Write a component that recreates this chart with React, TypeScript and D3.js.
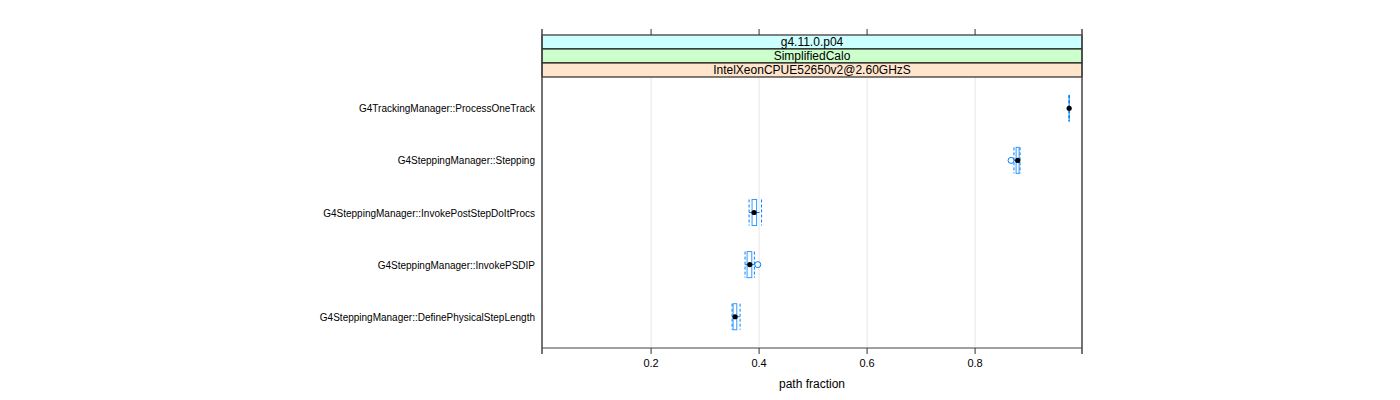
import React from "react";
import * as d3 from "d3";

const categories = [
  "G4TrackingManager::ProcessOneTrack",
  "G4SteppingManager::Stepping",
  "G4SteppingManager::InvokePostStepDoItProcs",
  "G4SteppingManager::InvokePSDIP",
  "G4SteppingManager::DefinePhysicalStepLength",
];
const lowerWhisker = [0.9737, 0.872, 0.3815, 0.374, 0.35];
const q1 = [0.9741, 0.876, 0.387, 0.3778, 0.3519];
const median = [0.9742, 0.879, 0.3907, 0.3828, 0.3556];
const q3 = [0.9743, 0.8815, 0.3954, 0.3865, 0.3587];
const upperWhisker = [0.9747, 0.8833, 0.4046, 0.3913, 0.3648];
const outliers: number[][] = [[], [0.8667], [], [0.3976], []];

const xTicks = [0.2, 0.4, 0.6, 0.8];
const stripLabels = ["g4.11.0.p04", "SimplifiedCalo", "IntelXeonCPUE52650v2@2.60GHzS"];
const stripColors = ["#ccffff", "#ccffcc", "#ffe5cc"];
const xLabel = "path fraction";

const BLUE = "#0080ff";
const FONT = "'Liberation Sans', Arial, Helvetica, sans-serif";

export default function App() {
  const left = 542, right = 1082;
  const frameTop = 35, stripH = 14;
  const panelTop = frameTop + stripH * stripLabels.length; // 77
  const panelBottom = 348;

  const x = d3.scaleLinear().domain([-0.002, 0.998]).range([left, right]);
  const n = categories.length;
  const y = d3.scaleLinear().domain([0.4, n + 0.6]).range([panelBottom, panelTop]);
  const boxHalf = Math.abs(y(0.25) - y(0));

  return (
    <svg width={1400} height={400} style={{ position: "absolute", left: 0, top: 0 }} fontFamily={FONT}>
      <rect x={0} y={0} width={1400} height={400} fill="#fff" />
      {xTicks.map((t) => (
        <line key={"g" + t} x1={x(t)} x2={x(t)} y1={panelTop} y2={panelBottom} stroke="#e6e6e6" strokeWidth={1} />
      ))}
      {stripLabels.map((s, i) => (
        <g key={s}>
          <rect x={left} y={frameTop + i * stripH} width={right - left} height={stripH} fill={stripColors[i]} stroke="#000" strokeWidth={1} />
          <text x={(left + right) / 2} y={frameTop + i * stripH + stripH / 2 + 4} textAnchor="middle" fontSize={12} fill="#000">
            {s}
          </text>
        </g>
      ))}
      {categories.map((c, i) => {
        const cy = y(n - i);
        return (
          <g key={c}>
            <line x1={x(lowerWhisker[i])} x2={x(q1[i])} y1={cy} y2={cy} stroke={BLUE} strokeDasharray="3,2" />
            <line x1={x(q3[i])} x2={x(upperWhisker[i])} y1={cy} y2={cy} stroke={BLUE} strokeDasharray="3,2" />
            <line x1={x(lowerWhisker[i])} x2={x(lowerWhisker[i])} y1={cy - boxHalf} y2={cy + boxHalf} stroke={BLUE} strokeDasharray="3,2" />
            <line x1={x(upperWhisker[i])} x2={x(upperWhisker[i])} y1={cy - boxHalf} y2={cy + boxHalf} stroke={BLUE} strokeDasharray="3,2" />
            <rect x={x(q1[i])} y={cy - boxHalf} width={x(q3[i]) - x(q1[i])} height={boxHalf * 2} fill="none" stroke={BLUE} strokeWidth={1} strokeOpacity={0.8} />
            {outliers[i].map((o, j) => (
              <circle key={j} cx={x(o)} cy={cy} r={3} fill="none" stroke={BLUE} strokeWidth={1} />
            ))}
            <circle cx={x(median[i])} cy={cy} r={2.6} fill="#000" />
            <text x={535} y={cy + 4} textAnchor="end" fontSize={10} fill="#000">
              {c}
            </text>
          </g>
        );
      })}
      <line x1={left} x2={right} y1={frameTop} y2={frameTop} stroke="#808080" strokeWidth={1.5} />
      <line x1={left} x2={right} y1={panelBottom} y2={panelBottom} stroke="#808080" strokeWidth={1.5} />
      <line x1={left} x2={left} y1={29} y2={354} stroke="#444" strokeWidth={1.5} />
      <line x1={right} x2={right} y1={29} y2={354} stroke="#444" strokeWidth={1.5} />
      {xTicks.map((t) => (
        <g key={"t" + t}>
          <line x1={x(t)} x2={x(t)} y1={29} y2={frameTop} stroke="#333" strokeWidth={1} />
          <line x1={x(t)} x2={x(t)} y1={panelBottom} y2={354} stroke="#333" strokeWidth={1} />
          <text x={x(t)} y={367} textAnchor="middle" fontSize={11} fill="#000">
            {d3.format(".1f")(t)}
          </text>
        </g>
      ))}
      <text x={(left + right) / 2} y={388} textAnchor="middle" fontSize={12} fill="#000">
        {xLabel}
      </text>
    </svg>
  );
}
